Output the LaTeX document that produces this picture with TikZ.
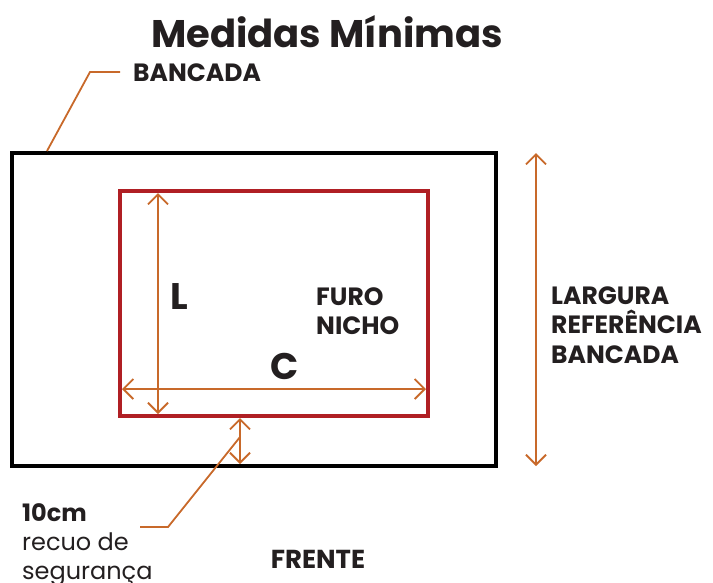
\documentclass[tikz,border=0pt]{standalone}
\usepackage{fontspec}
\setmainfont{Poppins}
\usetikzlibrary{arrows.meta}
\usetikzlibrary{positioning}
\definecolor{laranja}{HTML}{C8692A}
\definecolor{vermelho}{HTML}{B01F24}
\definecolor{texto}{HTML}{231F20}
\tikzset{x=1pt, y=-1pt,
	medida/.style={
		draw=laranja,
		line width=1.8pt,
		{Straight Barb[length=10pt,width=20pt]}-{Straight Barb[length=10pt,width=20pt]}},
	guia/.style={
		draw=laranja,
		line width=1.8pt},
	rotulo/.style={
		font=\bfseries\fontsize{25}{29.5}\selectfont,
		text=texto,
		align=left,
		inner sep=0pt}
}

\begin{document}
\begin{tikzpicture}
	\useasboundingbox (0,0) rectangle (713,582);
	\node[rotulo, font=\bfseries\fontsize{38.5}{40}\selectfont] (titulo) at (327,32) {Medidas Mínimas};
	% bancada e furo
	\node[draw, line width=4pt, minimum width=484, minimum height=313, inner sep=0pt] (bancada) at (254,309.5) {};
	\node[draw=vermelho, line width=4pt, minimum width=308, minimum height=225, inner sep=0pt] (furo) at (274,303.5) {};
	\node[rotulo, anchor=west] (nicho) at (316,311) {FURO\\NICHO};
	% medidas
	\coordinate (Lt) at (158,193);
	\coordinate (Lb) at (158,414);
	\coordinate (Ce) at (122,389);
	\coordinate (Cd) at (426,389);
	\coordinate (Rt) at (240,418);
	\coordinate (Rb) at (240,464);
	\coordinate (Gt) at (536,153);
	\coordinate (Gb) at (536,466);
	\draw[medida] (Lt) -- (Lb);
	\draw[medida] (Ce) -- (Cd);
	\draw[medida] (Rt) -- (Rb);
	\draw[medida] (Gt) -- (Gb);
	\node[rotulo, font=\bfseries\fontsize{37}{37}\selectfont] (L) at (179,297) {L};
	\node[rotulo, font=\bfseries\fontsize{37}{37}\selectfont] (C) at (285,366) {C};
	\node[rotulo, anchor=west] (largura) at (551,325) {LARGURA\\REFERÊNCIA\\BANCADA};
	% chamadas
	\node[rotulo, anchor=west] (nomebancada) at (133,73) {BANCADA};
	\coordinate (b1) at (90,72);
	\coordinate (b2) at (120,72);
	\draw[guia] (bancada.north west) ++(37,0) coordinate (b0) -- (b1) -- (b2);
	\node[rotulo, anchor=north west, font=\fontsize{24}{29}\selectfont] (recuo) at (22,503) {\bfseries 10cm\\recuo de\\segurança};
	\coordinate (r1) at (168,527);
	\coordinate (r2) at (140,527);
	\draw[guia] (240,437) coordinate (r0) -- (r1) -- (r2);
	\node[rotulo, font=\bfseries\fontsize{26}{29}\selectfont] (frente) at (318,559) {FRENTE};
\end{tikzpicture}
\end{document}
